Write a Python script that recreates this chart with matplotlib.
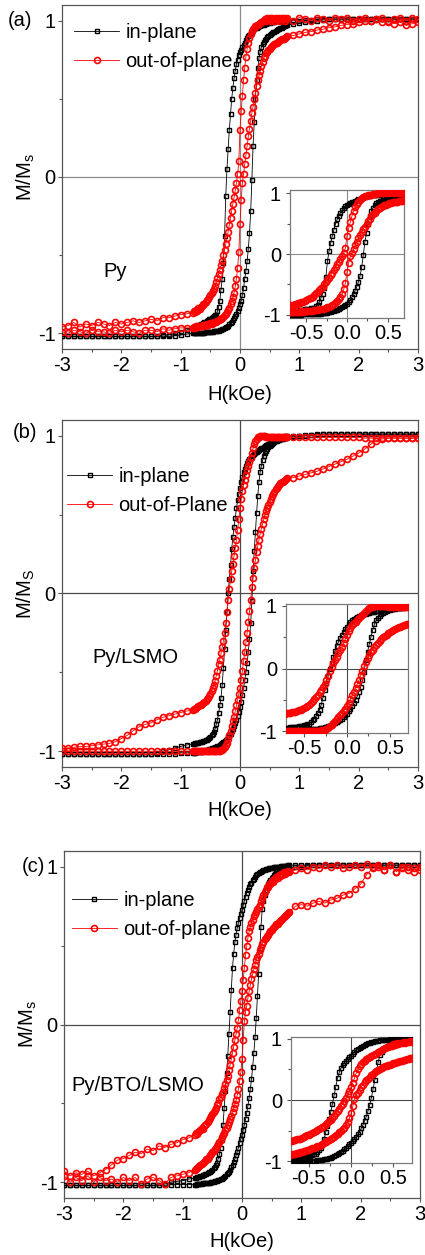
import matplotlib
matplotlib.use("Agg")
import matplotlib.pyplot as plt
from matplotlib.ticker import MultipleLocator

plt.rcParams['font.family'] = ['Liberation Sans', 'DejaVu Sans']
plt.rcParams['axes.unicode_minus'] = False
plt.rcParams['mathtext.default'] = 'regular'

# Field values (kOe): coarse outer steps, fine steps around zero
H_neg = [-3.0, -2.9, -2.8, -2.7, -2.6, -2.5, -2.4, -2.3, -2.2, -2.1, -2.0, -1.9, -1.8, -1.7, -1.6, -1.5, -1.4, -1.3, -1.2, -1.1, -1.0, -0.9]
H_mid = [-0.80, -0.78, -0.76, -0.74, -0.72, -0.70, -0.68, -0.66, -0.64, -0.62, -0.60, -0.58, -0.56, -0.54, -0.52, -0.50, -0.48, -0.46, -0.44, -0.42,
         -0.40, -0.38, -0.36, -0.34, -0.32, -0.30, -0.28, -0.26, -0.24, -0.22, -0.20, -0.18, -0.16, -0.14, -0.12, -0.10, -0.08, -0.06, -0.04, -0.02,
         0.00, 0.02, 0.04, 0.06, 0.08, 0.10, 0.12, 0.14, 0.16, 0.18, 0.20, 0.22, 0.24, 0.26, 0.28, 0.30, 0.32, 0.34, 0.36, 0.38,
         0.40, 0.42, 0.44, 0.46, 0.48, 0.50, 0.52, 0.54, 0.56, 0.58, 0.60, 0.62, 0.64, 0.66, 0.68, 0.70, 0.72, 0.74, 0.76, 0.78, 0.80]
H_pos = [0.9, 1.0, 1.1, 1.2, 1.3, 1.4, 1.5, 1.6, 1.7, 1.8, 1.9, 2.0, 2.1, 2.2, 2.3, 2.4, 2.5, 2.6, 2.7, 2.8, 2.9, 3.0]
H = H_neg + H_mid + H_pos

# ---------------- (a) Py ----------------
a_in_dn = [-1.02, -1.02, -1.02, -1.02, -1.02, -1.02, -1.02, -1.02, -1.02, -1.02, -1.02, -1.02, -1.02, -1.02, -1.02, -1.02, -1.02, -1.01, -1.01, -1.00, -0.99, -0.98,
           -0.960, -0.958, -0.955, -0.953, -0.950, -0.948, -0.945, -0.942, -0.940, -0.935, -0.930, -0.925, -0.920, -0.915, -0.910, -0.905, -0.900, -0.895, -0.890, -0.885,
           -0.880, -0.860, -0.830, -0.790, -0.720, -0.650, -0.550, -0.380, -0.120, 0.050, 0.180, 0.300, 0.400, 0.500, 0.570, 0.630, 0.680, 0.720, 0.750, 0.780,
           0.800, 0.815, 0.830, 0.845, 0.860, 0.875, 0.890, 0.900, 0.910, 0.920, 0.930, 0.938, 0.945, 0.950, 0.955, 0.960, 0.965, 0.968, 0.970, 0.973,
           0.975, 0.978, 0.980, 0.983, 0.985, 0.988, 0.990, 0.990, 0.990, 0.993, 0.995, 0.995, 0.995, 0.998, 1.0, 1.0, 1.0, 1.0, 1.0, 1.0, 1.0,
           1.0, 1.0, 1.005, 1.005, 1.01, 1.01, 1.01, 1.01, 1.01, 1.01, 1.01, 1.01, 1.01, 1.01, 1.01, 1.01, 1.01, 1.01, 1.01, 1.01, 1.01, 1.01]
a_in_up = [-1.02, -1.02, -1.02, -1.02, -1.02, -1.02, -1.02, -1.02, -1.02, -1.02, -1.02, -1.02, -1.02, -1.02, -1.02, -1.02, -1.02, -1.02, -1.02, -1.015, -1.01, -1.005,
           -1.0, -1.0, -1.0, -1.0, -1.0, -0.998, -0.998, -0.997, -0.996, -0.995, -0.995, -0.994, -0.993, -0.992, -0.991, -0.990, -0.990, -0.989, -0.988, -0.987,
           -0.986, -0.984, -0.982, -0.980, -0.977, -0.974, -0.970, -0.966, -0.962, -0.957, -0.950, -0.943, -0.935, -0.926, -0.915, -0.903, -0.890, -0.875, -0.858, -0.838,
           -0.815, -0.790, -0.755, -0.710, -0.650, -0.600, -0.540, -0.460, -0.360, -0.220, -0.020, 0.200, 0.350, 0.500, 0.620, 0.700, 0.760, 0.800, 0.830, 0.850,
           0.865, 0.875, 0.885, 0.893, 0.900, 0.907, 0.913, 0.920, 0.925, 0.930, 0.935, 0.940, 0.944, 0.948, 0.952, 0.956, 0.960, 0.963, 0.966, 0.969, 0.972,
           0.98, 0.985, 0.99, 0.995, 1.0, 1.005, 1.01, 1.01, 1.01, 1.01, 1.01, 1.01, 1.01, 1.01, 1.01, 1.01, 1.01, 1.01, 1.01, 1.01, 1.01, 1.01]
a_out_dn = [-0.96, -0.95, -0.93, -0.96, -0.94, -0.95, -0.93, -0.94, -0.95, -0.93, -0.94, -0.93, -0.92, -0.93, -0.92, -0.91, -0.92, -0.90, -0.90, -0.89, -0.88, -0.875,
            -0.87, -0.86, -0.865, -0.85, -0.855, -0.84, -0.845, -0.83, -0.825, -0.815, -0.81, -0.80, -0.785, -0.78, -0.765, -0.755, -0.745, -0.73, -0.715, -0.70,
            -0.670, -0.645, -0.620, -0.595, -0.565, -0.535, -0.500, -0.465, -0.430, -0.390, -0.350, -0.305, -0.260, -0.215, -0.170, -0.130, -0.085, -0.040, 0.020, 0.100,
            0.300, 0.420, 0.520, 0.620, 0.700, 0.770, 0.820, 0.860, 0.890, 0.915, 0.935, 0.945, 0.955, 0.965, 0.970, 0.975, 0.980, 0.985, 0.990, 0.995,
            1.0, 1.01, 0.995, 1.02, 1.005, 1.015, 1.0, 1.02, 1.01, 1.0, 1.02, 1.01, 1.005, 1.02, 1.0, 1.015, 1.01, 1.02, 1.0, 1.01, 1.02,
            1.0, 1.02, 1.01, 1.0, 1.02, 1.01, 1.0, 1.02, 1.01, 1.02, 1.0, 1.01, 1.02, 1.0, 1.01, 1.02, 0.99, 1.01, 1.02, 1.0, 1.02, 1.01]
a_out_up = [-0.99, -1.0, -0.98, -0.99, -1.0, -0.98, -0.99, -0.99, -1.0, -0.98, -0.99, -0.98, -0.99, -1.0, -0.98, -0.98, -0.99, -0.97, -0.98, -0.97, -0.965, -0.965,
            -0.965, -0.96, -0.965, -0.955, -0.96, -0.955, -0.95, -0.955, -0.95, -0.945, -0.95, -0.945, -0.94, -0.945, -0.94, -0.935, -0.94, -0.935, -0.93, -0.93,
            -0.925, -0.92, -0.915, -0.91, -0.905, -0.90, -0.895, -0.885, -0.875, -0.865, -0.85, -0.835, -0.815, -0.795, -0.77, -0.74, -0.70, -0.65, -0.58, -0.48,
            -0.30, -0.15, -0.04, 0.02, 0.08, 0.14, 0.20, 0.26, 0.31, 0.36, 0.41, 0.45, 0.50, 0.54, 0.58, 0.62, 0.65, 0.68, 0.71, 0.735,
            0.76, 0.775, 0.79, 0.80, 0.81, 0.82, 0.83, 0.835, 0.845, 0.85, 0.855, 0.86, 0.865, 0.87, 0.875, 0.88, 0.885, 0.885, 0.89, 0.895, 0.90,
            0.905, 0.915, 0.925, 0.93, 0.94, 0.945, 0.955, 0.96, 0.97, 0.975, 0.98, 0.99, 1.0, 1.0, 1.01, 0.99, 1.0, 0.98, 0.99, 0.97, 0.98, 0.99]

# ---------------- (b) Py/LSMO ----------------
b_in_dn = [-1.02, -1.02, -1.02, -1.02, -1.02, -1.02, -1.02, -1.02, -1.02, -1.02, -1.02, -1.02, -1.02, -1.02, -1.02, -1.02, -1.01, -1.00, -0.99, -0.98, -0.97, -0.96,
           -0.955, -0.953, -0.951, -0.949, -0.947, -0.945, -0.943, -0.941, -0.939, -0.936, -0.933, -0.93, -0.926, -0.921, -0.915, -0.908, -0.90, -0.89, -0.88, -0.86,
           -0.83, -0.80, -0.76, -0.71, -0.66, -0.58, -0.47, -0.35, -0.23, -0.12, 0.00, 0.09, 0.18, 0.28, 0.36, 0.42, 0.48, 0.54, 0.59, 0.63,
           0.67, 0.71, 0.74, 0.77, 0.79, 0.81, 0.825, 0.84, 0.85, 0.86, 0.87, 0.878, 0.885, 0.892, 0.898, 0.904, 0.91, 0.915, 0.92, 0.925,
           0.93, 0.935, 0.94, 0.944, 0.948, 0.952, 0.956, 0.96, 0.964, 0.968, 0.972, 0.975, 0.978, 0.981, 0.984, 0.987, 0.99, 0.992, 0.994, 0.996, 0.998,
           1.0, 1.0, 1.005, 1.005, 1.01, 1.01, 1.01, 1.01, 1.01, 1.01, 1.01, 1.01, 1.01, 1.01, 1.01, 1.01, 1.01, 1.01, 1.01, 1.01, 1.01, 1.01]
b_in_up = [-1.02, -1.02, -1.02, -1.02, -1.02, -1.02, -1.02, -1.02, -1.02, -1.02, -1.02, -1.02, -1.02, -1.02, -1.02, -1.02, -1.02, -1.02, -1.015, -1.015, -1.01, -1.01,
           -1.01, -1.01, -1.01, -1.008, -1.006, -1.005, -1.004, -1.002, -1.0, -0.998, -0.996, -0.994, -0.992, -0.99, -0.988, -0.985, -0.982, -0.98, -0.977, -0.974,
           -0.971, -0.968, -0.964, -0.96, -0.955, -0.95, -0.944, -0.937, -0.93, -0.922, -0.912, -0.90, -0.888, -0.874, -0.858, -0.84, -0.82, -0.80, -0.775, -0.75,
           -0.72, -0.685, -0.645, -0.60, -0.55, -0.50, -0.44, -0.37, -0.29, -0.19, -0.05, 0.14, 0.27, 0.39, 0.51, 0.62, 0.71, 0.77, 0.81, 0.845,
           0.87, 0.89, 0.905, 0.918, 0.928, 0.936, 0.943, 0.949, 0.955, 0.96, 0.964, 0.968, 0.971, 0.974, 0.977, 0.98, 0.982, 0.984, 0.986, 0.988, 0.99,
           0.993, 0.996, 1.0, 1.003, 1.006, 1.01, 1.01, 1.01, 1.01, 1.01, 1.01, 1.01, 1.01, 1.01, 1.01, 1.01, 1.01, 1.01, 1.01, 1.01, 1.01, 1.01]
b_out_dn = [-0.98, -0.98, -0.975, -0.97, -0.97, -0.965, -0.96, -0.955, -0.95, -0.94, -0.92, -0.90, -0.87, -0.845, -0.83, -0.82, -0.80, -0.785, -0.775, -0.765, -0.755, -0.745,
            -0.74, -0.735, -0.73, -0.725, -0.72, -0.715, -0.71, -0.705, -0.70, -0.695, -0.69, -0.68, -0.67, -0.66, -0.65, -0.635, -0.62, -0.60, -0.58, -0.555,
            -0.52, -0.49, -0.45, -0.42, -0.38, -0.34, -0.30, -0.25, -0.19, -0.12, -0.04, 0.03, 0.09, 0.14, 0.19, 0.24, 0.29, 0.34, 0.40, 0.47,
            0.54, 0.60, 0.65, 0.69, 0.72, 0.75, 0.78, 0.81, 0.835, 0.86, 0.89, 0.92, 0.945, 0.965, 0.98, 0.99, 0.995, 1.0, 1.0, 1.0,
            1.0, 0.998, 0.995, 0.993, 0.99, 0.99, 0.99, 0.99, 0.99, 0.99, 0.99, 0.99, 0.99, 0.99, 0.99, 0.99, 0.99, 0.99, 0.99, 0.99, 0.99,
            0.99, 0.99, 0.99, 0.99, 0.99, 0.99, 0.99, 0.99, 0.99, 0.99, 0.99, 0.99, 0.985, 0.985, 0.985, 0.985, 0.985, 0.985, 0.985, 0.985, 0.985, 0.985]
b_out_up = [-1.0, -1.0, -1.0, -1.0, -1.0, -1.0, -1.0, -1.0, -1.0, -1.0, -1.0, -1.0, -1.0, -1.0, -1.0, -1.0, -1.0, -1.0, -1.0, -1.0, -1.0, -1.0,
            -1.0, -1.0, -1.0, -1.0, -1.0, -1.0, -1.0, -1.0, -1.0, -1.0, -1.0, -1.0, -1.0, -1.0, -1.0, -1.0, -1.0, -1.0, -1.0, -1.0,
            -1.0, -1.0, -1.0, -0.998, -0.995, -0.99, -0.985, -0.975, -0.96, -0.945, -0.925, -0.90, -0.87, -0.84, -0.81, -0.78, -0.745, -0.71, -0.675, -0.64,
            -0.60, -0.55, -0.49, -0.43, -0.37, -0.31, -0.25, -0.18, -0.11, -0.04, 0.04, 0.10, 0.16, 0.21, 0.26, 0.30, 0.34, 0.38, 0.41, 0.44,
            0.47, 0.50, 0.52, 0.54, 0.56, 0.58, 0.60, 0.615, 0.63, 0.645, 0.66, 0.67, 0.68, 0.69, 0.70, 0.705, 0.71, 0.715, 0.72, 0.725, 0.73,
            0.735, 0.745, 0.755, 0.765, 0.775, 0.79, 0.805, 0.82, 0.835, 0.85, 0.87, 0.89, 0.915, 0.945, 0.97, 0.98, 0.985, 0.985, 0.985, 0.985, 0.985, 0.985]

# ---------------- (c) Py/BTO/LSMO ----------------
c_in_dn = [-1.02, -1.02, -1.02, -1.02, -1.02, -1.02, -1.02, -1.02, -1.02, -1.02, -1.02, -1.02, -1.02, -1.02, -1.02, -1.02, -1.015, -1.01, -1.0, -0.995, -0.99, -0.98,
           -0.975, -0.973, -0.97, -0.968, -0.965, -0.962, -0.96, -0.957, -0.954, -0.95, -0.946, -0.942, -0.937, -0.932, -0.926, -0.92, -0.912, -0.903, -0.89, -0.875,
           -0.85, -0.82, -0.78, -0.73, -0.64, -0.53, -0.42, -0.31, -0.20, -0.06, 0.08, 0.22, 0.36, 0.45, 0.52, 0.57, 0.61, 0.645, 0.675, 0.70,
           0.725, 0.755, 0.785, 0.81, 0.835, 0.855, 0.872, 0.888, 0.90, 0.913, 0.925, 0.935, 0.945, 0.952, 0.958, 0.964, 0.969, 0.973, 0.977, 0.98,
           0.983, 0.986, 0.988, 0.99, 0.992, 0.994, 0.995, 0.996, 0.997, 0.998, 1.0, 1.0, 1.0, 1.002, 1.004, 1.005, 1.006, 1.007, 1.008, 1.009, 1.01,
           1.01, 1.01, 1.01, 1.01, 1.01, 1.01, 1.01, 1.01, 1.01, 1.01, 1.01, 1.01, 1.01, 1.01, 1.01, 1.01, 1.01, 1.01, 1.01, 1.01, 1.01, 1.01]
c_in_up = [-1.02, -1.02, -1.02, -1.02, -1.02, -1.02, -1.02, -1.02, -1.02, -1.02, -1.02, -1.02, -1.02, -1.02, -1.02, -1.02, -1.02, -1.02, -1.015, -1.015, -1.015, -1.015,
           -1.015, -1.015, -1.013, -1.012, -1.011, -1.01, -1.009, -1.008, -1.007, -1.006, -1.005, -1.004, -1.003, -1.002, -1.0, -0.998, -0.996, -0.994, -0.992, -0.99,
           -0.987, -0.984, -0.981, -0.977, -0.972, -0.966, -0.959, -0.951, -0.942, -0.932, -0.92, -0.906, -0.89, -0.872, -0.852, -0.83, -0.806, -0.78, -0.752, -0.725,
           -0.70, -0.67, -0.635, -0.60, -0.56, -0.515, -0.465, -0.41, -0.345, -0.27, -0.18, -0.08, 0.04, 0.18, 0.32, 0.48, 0.62, 0.73, 0.78, 0.82,
           0.85, 0.87, 0.89, 0.905, 0.918, 0.928, 0.937, 0.945, 0.952, 0.958, 0.963, 0.967, 0.971, 0.975, 0.978, 0.981, 0.984, 0.986, 0.988, 0.99, 0.992,
           0.997, 1.0, 1.005, 1.01, 1.01, 1.01, 1.01, 1.01, 1.01, 1.01, 1.01, 1.01, 1.01, 1.01, 1.01, 1.01, 1.01, 1.01, 1.01, 1.01, 1.01, 1.01]
c_out_dn = [-0.93, -0.96, -0.94, -0.95, -0.93, -0.96, -0.94, -0.92, -0.89, -0.86, -0.85, -0.83, -0.81, -0.82, -0.79, -0.80, -0.77, -0.78, -0.76, -0.75, -0.73, -0.72,
            -0.70, -0.69, -0.695, -0.68, -0.675, -0.67, -0.655, -0.66, -0.645, -0.635, -0.63, -0.615, -0.605, -0.59, -0.58, -0.565, -0.555, -0.54, -0.53, -0.51,
            -0.495, -0.475, -0.46, -0.44, -0.425, -0.40, -0.375, -0.35, -0.325, -0.29, -0.255, -0.22, -0.18, -0.14, -0.10, -0.06, -0.02, 0.03, 0.09, 0.15,
            0.21, 0.28, 0.36, 0.44, 0.50, 0.55, 0.59, 0.62, 0.645, 0.665, 0.685, 0.70, 0.715, 0.73, 0.745, 0.76, 0.78, 0.80, 0.82, 0.84,
            0.855, 0.87, 0.87, 0.89, 0.89, 0.91, 0.905, 0.925, 0.92, 0.935, 0.93, 0.945, 0.94, 0.955, 0.95, 0.965, 0.955, 0.97, 0.965, 0.975, 0.97,
            0.98, 0.99, 0.98, 1.0, 0.99, 1.01, 1.0, 1.01, 0.99, 1.0, 1.01, 1.0, 1.02, 1.0, 1.01, 0.98, 1.01, 0.97, 1.0, 0.98, 0.99, 1.0]
c_out_up = [-0.96, -1.0, -0.97, -0.99, -0.96, -1.0, -0.97, -0.99, -0.98, -1.0, -0.97, -0.99, -0.97, -1.01, -0.98, -0.97, -0.99, -1.01, -0.97, -0.96, -0.95, -0.94,
            -0.92, -0.915, -0.91, -0.905, -0.90, -0.89, -0.885, -0.88, -0.87, -0.865, -0.855, -0.85, -0.84, -0.83, -0.82, -0.81, -0.80, -0.79, -0.78, -0.77,
            -0.76, -0.745, -0.73, -0.715, -0.70, -0.685, -0.67, -0.655, -0.64, -0.62, -0.60, -0.58, -0.555, -0.53, -0.505, -0.48, -0.45, -0.41, -0.36, -0.30,
            -0.22, -0.10, 0.02, 0.08, 0.12, 0.17, 0.21, 0.25, 0.29, 0.32, 0.35, 0.38, 0.41, 0.43, 0.45, 0.47, 0.49, 0.51, 0.525, 0.54,
            0.55, 0.56, 0.57, 0.58, 0.59, 0.60, 0.61, 0.62, 0.625, 0.635, 0.64, 0.65, 0.655, 0.665, 0.67, 0.68, 0.685, 0.695, 0.70, 0.71, 0.715,
            0.75, 0.76, 0.75, 0.77, 0.78, 0.77, 0.79, 0.80, 0.82, 0.83, 0.86, 0.89, 0.95, 0.99, 1.0, 0.98, 1.01, 0.97, 0.99, 1.0, 0.97, 0.98]

panel_tags = ["(a)", "(b)", "(c)"]
sample_names = ["Py", "Py/LSMO", "Py/BTO/LSMO"]
legend_labels = [["in-plane", "out-of-plane"], ["in-plane", "out-of-Plane"], ["in-plane", "out-of-plane"]]
ylabels = ["M/M$_s$", "M/M$_S$", "M/M$_s$"]
xlabel = "H(kOe)"
main_xticks = [-3, -2, -1, 0, 1, 2, 3]
main_yticks = [-1, 0, 1]
inset_xticks = [-0.5, 0.0, 0.5]
inset_xticklabels = ["-0.5", "0.0", "0.5"]

panels = [
    (a_in_dn, a_in_up, a_out_dn, a_out_up),
    (b_in_dn, b_in_up, b_out_dn, b_out_up),
    (c_in_dn, c_in_up, c_out_dn, c_out_up),
]

W, Hpx = 425, 1255
fig = plt.figure(figsize=(W / 100, Hpx / 100), dpi=100)

main_rects = [
    [62 / W, 1 - 349 / Hpx, 356 / W, 344 / Hpx],
    [62 / W, 1 - 767 / Hpx, 356 / W, 347 / Hpx],
    [64 / W, 1 - 1198 / Hpx, 356 / W, 347 / Hpx],
]
inset_rects = [
    [290 / W, 1 - 318 / Hpx, 114 / W, 128 / Hpx],
    [286 / W, 1 - 733 / Hpx, 122 / W, 129 / Hpx],
    [291 / W, 1 - 1163 / Hpx, 121 / W, 126 / Hpx],
]
inset_xlims = [(-0.70, 0.70), (-0.71, 0.71), (-0.71, 0.72)]
inset_ylims = [(-1.05, 1.05), (-1.03, 1.03), (-1.03, 1.03)]
zero_colors = ["#8c8c8c", "#4a4a4a", "#4a4a4a"]
tag_pos = [(8, 20), (13, 433), (22, 867)]
legend_anchor = [(0.034, 0.947), (0.014, 0.864), (0.022, 0.886)]
sample_pos = [(0.115, 0.224), (0.084, 0.317), (0.022, 0.323)]
xlabel_y = [-0.105, -0.099, -0.097]

FS = 14.5
sq = dict(color="black", marker="s", ms=3.5, mfc="none", mec="black", mew=1.0, lw=0.6)
ci = dict(color="red", marker="o", ms=4.3, mfc="none", mec="red", mew=1.2, lw=0.6)
spine_col = "#555555"


def style_axes(ax, fs):
    for s in ax.spines.values():
        s.set_color(spine_col)
        s.set_linewidth(0.9)
    ax.tick_params(which="both", direction="out", colors=spine_col, labelcolor="black",
                   labelsize=fs, width=0.8)
    ax.tick_params(which="major", length=3)
    ax.tick_params(which="minor", length=2)


for i, (in_dn, in_up, out_dn, out_up) in enumerate(panels):
    ax = fig.add_axes(main_rects[i])
    ax.axhline(0, color=zero_colors[i], lw=0.9, zorder=1)
    ax.axvline(0, color=zero_colors[i], lw=0.9, zorder=1)
    l1, = ax.plot(H, in_dn, label=legend_labels[i][0], zorder=3, **sq)
    ax.plot(H, in_up, zorder=3, **sq)
    l2, = ax.plot(H, out_dn, label=legend_labels[i][1], zorder=4, **ci)
    ax.plot(H, out_up, zorder=4, **ci)
    ax.set_xlim(-3, 3)
    ax.set_ylim(-1.1, 1.1)
    ax.set_xticks(main_xticks)
    ax.set_yticks(main_yticks)
    ax.xaxis.set_minor_locator(MultipleLocator(0.5))
    ax.yaxis.set_minor_locator(MultipleLocator(0.5))
    style_axes(ax, FS)
    ax.tick_params(axis="x", which="major", pad=2)
    ax.tick_params(axis="y", which="major", pad=1.5)
    ax.set_xlabel(xlabel, fontsize=FS)
    ax.xaxis.set_label_coords(0.5, xlabel_y[i])
    ax.set_ylabel(ylabels[i], fontsize=FS)
    ax.yaxis.set_label_coords(-0.07, 0.5)
    ax.legend(handles=[l1, l2], loc="upper left", bbox_to_anchor=legend_anchor[i],
              frameon=False, fontsize=FS, handlelength=2.25, handletextpad=0.3,
              borderpad=0, borderaxespad=0, labelspacing=0.5, numpoints=1)
    ax.text(sample_pos[i][0], sample_pos[i][1], sample_names[i], transform=ax.transAxes,
            fontsize=FS, ha="left", va="center")
    fig.text(tag_pos[i][0] / W, 1 - tag_pos[i][1] / Hpx, panel_tags[i], fontsize=FS,
             ha="left", va="center")

    ins = fig.add_axes(inset_rects[i])
    ins.set_facecolor("white")
    ins.axhline(0, color=zero_colors[i], lw=0.8, zorder=1)
    ins.axvline(0, color=zero_colors[i], lw=0.8, zorder=1)
    ins.plot(H, in_dn, zorder=3, **sq)
    ins.plot(H, in_up, zorder=3, **sq)
    ins.plot(H, out_dn, zorder=4, **ci)
    ins.plot(H, out_up, zorder=4, **ci)
    ins.set_xlim(*inset_xlims[i])
    ins.set_ylim(*inset_ylims[i])
    ins.set_xticks(inset_xticks)
    ins.set_xticklabels(inset_xticklabels)
    ins.set_yticks(main_yticks)
    ins.xaxis.set_minor_locator(MultipleLocator(0.25))
    ins.yaxis.set_minor_locator(MultipleLocator(0.5))
    style_axes(ins, FS)
    ins.tick_params(axis="x", which="major", pad=1.5)
    ins.tick_params(axis="y", which="major", pad=3.5)
    for s in ins.spines.values():
        s.set_color("#7a7a7a")

fig.savefig("out.png", dpi=100)
